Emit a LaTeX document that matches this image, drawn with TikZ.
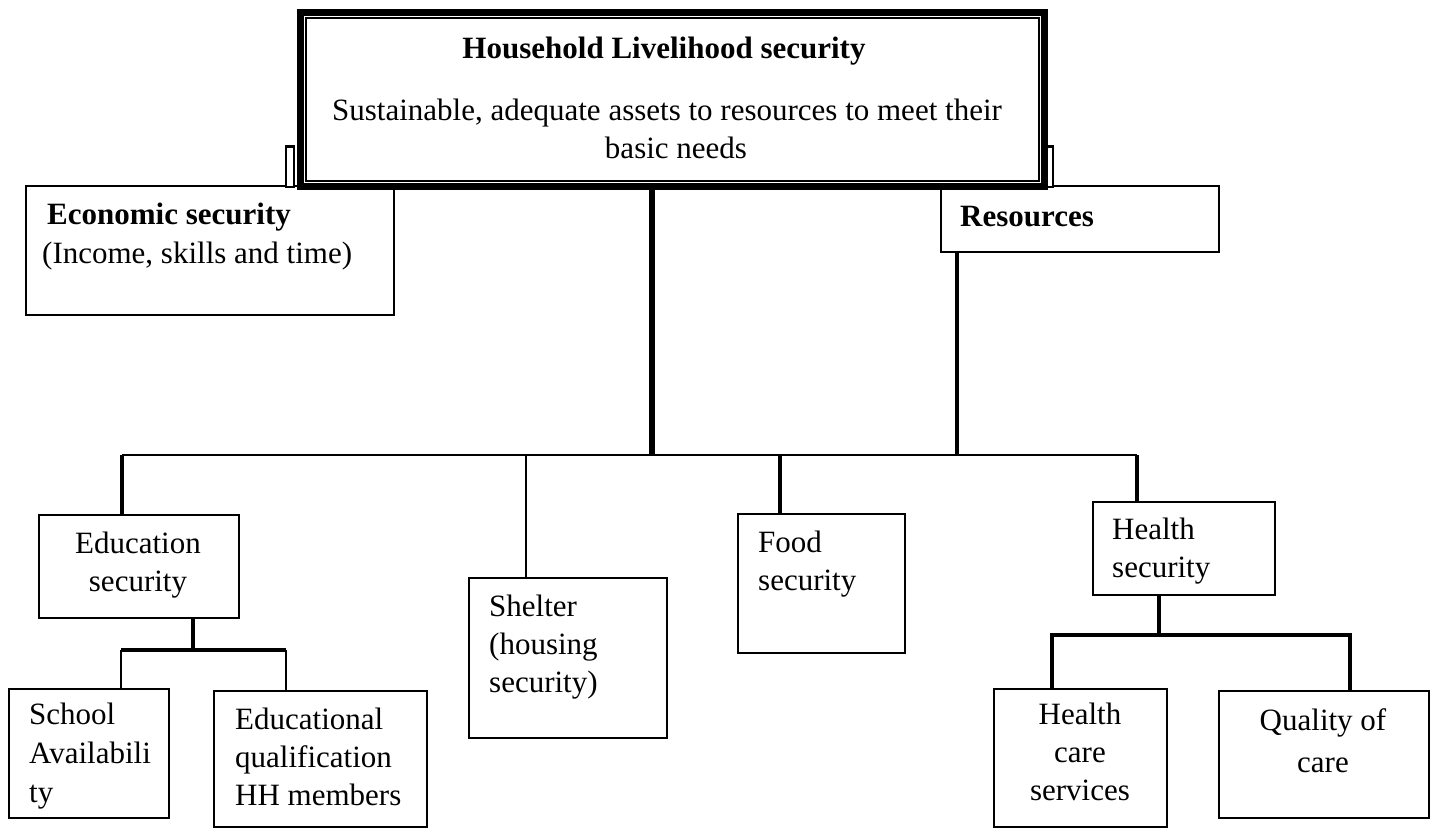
\documentclass[tikz,border=0pt]{standalone}
\usepackage{fontspec}
\setmainfont{Liberation Serif}
\begin{document}
\begin{tikzpicture}[x=1pt,y=-1pt,
  bx/.style={draw, line width=1.6pt, inner sep=0pt, anchor=north west, fill=white},
  txt/.style={inner sep=0pt, font=\fontsize{31}{38}\selectfont},
  bold/.style={inner sep=0pt, font=\fontsize{31}{38}\selectfont\bfseries},
  ltxt/.style={txt, anchor=base west, align=left},
  ctxt/.style={txt, anchor=base, align=center},
  thinlink/.style={line width=2pt},
  link/.style={line width=4pt},
  trunk/.style={line width=6pt}]
\useasboundingbox (0,0) rectangle (1437,828);

% first-level boxes
\node[bx, minimum width=368pt, minimum height=129pt] (econ) at (25,185) {};
\node[bx, minimum width=278pt, minimum height=66pt] (res) at (940,185) {};

% small side tabs behind the main frame
\node[bx, minimum width=8pt, minimum height=40pt] (tabL) at (285,146) {};
\draw[line width=3pt] (tabL.north west) -- (tabL.north east);
\node[bx, minimum width=8pt, minimum height=40pt] (tabR) at (1044,146) {};
\draw[line width=3pt] (tabR.north west) -- (tabR.north east);

% main frame with double border
\node[draw, line width=7pt, fill=white, anchor=north west, inner sep=0pt,
      minimum width=744pt, minimum height=174pt] (top) at (296.5,8.5) {};
\draw[line width=2pt] ([shift={(9pt,-9pt)}]top.north west)
      rectangle ([shift={(-8.5pt,9pt)}]top.south east);
\node[bold, anchor=base] (ttl) at (664,58) {Household Livelihood security};
\node[txt, anchor=base] (sub1) at (667,120) {Sustainable, adequate assets to resources to meet their};
\node[txt, anchor=base] (sub2) at (676,158) {basic needs};

\node[bold, anchor=base west] (econt) at (47,224) {Economic security};
\node[txt, anchor=base west] (econs) at (42,263) {(Income, skills and time)};
\node[bold, anchor=base west] (rest) at (960,226) {Resources};

% second-level boxes
\node[bx, minimum width=200pt, minimum height=103pt] (edu) at (38,514) {};
\node[bx, minimum width=198pt, minimum height=160pt] (shel) at (468,577) {};
\node[bx, minimum width=167pt, minimum height=139pt] (food) at (737,513) {};
\node[bx, minimum width=182pt, minimum height=93pt] (hsec) at (1092,501) {};

% third-level boxes
\node[bx, minimum width=160pt, minimum height=129pt] (school) at (8,688) {};
\node[bx, minimum width=213pt, minimum height=136pt] (eduq) at (213,690) {};
\node[bx, minimum width=173pt, minimum height=138pt] (hcare) at (993,688) {};
\node[bx, minimum width=210pt, minimum height=127pt] (qual) at (1218,690) {};

% box texts (base anchor sits on the last line)
\node[ctxt] (edut) at (138,591) {Education\\security};
\node[ltxt] (shelt) at (489,692) {Shelter\\(housing\\security)};
\node[ltxt] (foodt) at (758,590) {Food\\security};
\node[ltxt] (hsect) at (1112,577) {Health\\security};
\node[ltxt] (schoolt) at (29,802) {School\\[1pt]Availabili\\[1pt]ty};
\node[ltxt] (eduqt) at (235,805) {Educational\\qualification\\HH members};
\node[ctxt] (hcaret) at (1080,800) {Health\\care\\services};
\node[ctxt] (qualt) at (1323,772) {Quality of\\[4pt]care};

% trunk and bus
\coordinate (hub) at (652,455);
\coordinate (rj) at (957,455);
\coordinate (busL) at (122,455);
\coordinate (busR) at (1137,455);
\draw[trunk] (top.south -| hub) -- (hub);
\draw[link] (res.south -| rj) -- (rj);
\draw[thinlink] (busL) -- (busR);

% branches to second level
\coordinate (sj) at (526,455);
\coordinate (fj) at (780,455);
\draw[link] (busL) -- (edu.north -| busL);
\draw[thinlink] (sj) -- (shel.north -| sj);
\draw[link] (fj) -- (food.north -| fj);
\draw[link] (busR) -- (hsec.north -| busR);

% education sub-branches
\coordinate (ej) at (193,650);
\coordinate (ejL) at (121,650);
\coordinate (ejR) at (286,650);
\draw[link] (edu.south -| ej) -- (ej);
\draw[line width=3.5pt] (ejL) -- (ejR);
\draw[thinlink] (ejL) -- (school.north -| ejL);
\draw[thinlink] (ejR) -- (eduq.north -| ejR);

% health sub-branches
\coordinate (hj) at (1159,635);
\coordinate (hjL) at (1052,635);
\coordinate (hjR) at (1350,635);
\draw[link] (hsec.south -| hj) -- (hj);
\draw[link] (hcare.north -| hjL) -- (hjL) -- (hjR) -- (qual.north -| hjR);
\end{tikzpicture}
\end{document}
